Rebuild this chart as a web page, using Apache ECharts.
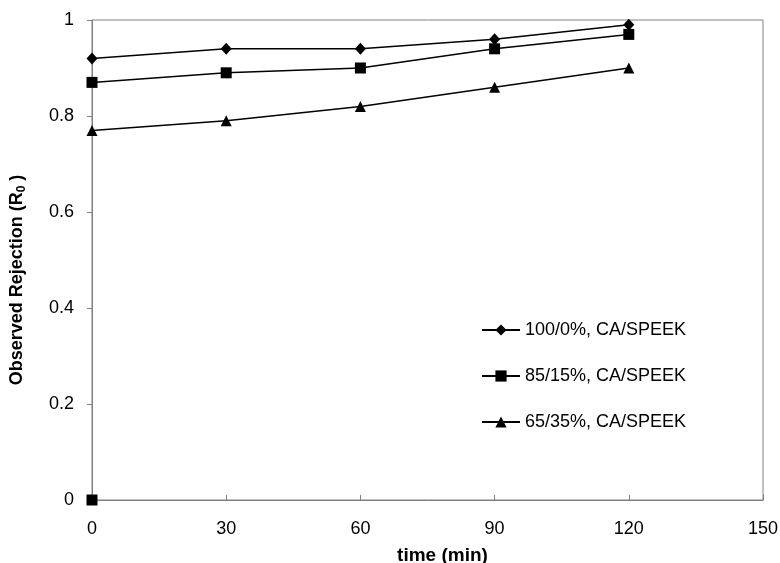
<!DOCTYPE html>
<html>
<head>
<meta charset="utf-8">
<script src="https://cdn.jsdelivr.net/npm/echarts@6/dist/echarts.min.js"></script>
<style>html,body{margin:0;padding:0;background:#fff}#c{width:780px;height:563px}</style>
</head>
<body>
<div id="c"></div>
<script>
const times = [0, 30, 60, 90, 120];
const s100 = [0.92, 0.94, 0.94, 0.96, 0.99];
const s85 = [0.87, 0.89, 0.90, 0.94, 0.97];
const s65 = [0.77, 0.79, 0.82, 0.86, 0.90];
const strayPoint = [[0, 0]];
const names = ['100/0%, CA/SPEEK', '85/15%, CA/SPEEK', '65/35%, CA/SPEEK'];

const pair = (ys) => times.map((t, i) => [t, ys[i]]);
const font = 'Liberation Sans, Arial, sans-serif';
const chart = echarts.init(document.getElementById('c'));
const lineSeries = (name, data, symbol, size) => ({
  name, type: 'line', data, symbol, symbolSize: size,
  lineStyle: { color: '#000', width: 1.5 },
  itemStyle: { color: '#000', opacity: 1 },
  emphasis: { disabled: true }, animation: false
});
chart.setOption({
  animation: false,
  grid: { left: 92, right: 17, top: 20, bottom: 63, show: true, borderColor: '#808080', borderWidth: 1, outerBoundsMode: 'none', containLabel: false },
  legend: {
    orient: 'vertical', left: 481, top: 321, padding: 0, itemWidth: 38, itemHeight: 14, itemGap: 28,
    textStyle: { fontFamily: font, fontSize: 18, color: '#000' },
    data: names
  },
  xAxis: {
    type: 'value', min: 0, max: 150, interval: 30,
    name: 'time (min)', nameLocation: 'middle', nameGap: 46,
    nameTextStyle: { fontFamily: font, fontSize: 19, fontWeight: 'bold', color: '#000', padding: [0, 0, 0, 30] },
    axisLine: { lineStyle: { color: '#808080', width: 1 } },
    axisTick: { inside: true, length: 5, lineStyle: { color: '#808080' } },
    axisLabel: { fontFamily: font, fontSize: 18, color: '#000', margin: 20 },
    splitLine: { show: false }
  },
  yAxis: {
    type: 'value', min: 0, max: 1, interval: 0.2,
    name: '{a|Observed Rejection (R}{b|0}{a| )}', nameLocation: 'middle', nameGap: 64,
    nameTextStyle: {
      fontFamily: font, fontSize: 18, fontWeight: 'bold', color: '#000', padding: [0, 40, 0, 0],
      rich: {
        a: { fontFamily: font, fontSize: 18, fontWeight: 'bold', color: '#000' },
        b: { fontFamily: font, fontSize: 12, fontWeight: 'bold', color: '#000', padding: [9, 0, 0, 0] }
      }
    },
    axisLine: { lineStyle: { color: '#808080', width: 1 } },
    axisTick: { inside: false, length: 5, lineStyle: { color: '#808080' } },
    axisLabel: { fontFamily: font, fontSize: 18, color: '#000', margin: 18 },
    splitLine: { show: false }
  },
  series: [
    lineSeries(names[0], pair(s100), 'diamond', [11, 12]),
    lineSeries(names[1], pair(s85), 'rect', 11),
    lineSeries(names[2], pair(s65), 'triangle', 11),
    { type: 'scatter', data: strayPoint, symbol: 'rect', symbolSize: 11, itemStyle: { color: '#000', opacity: 1 }, silent: true }
  ]
});
</script>
</body>
</html>
